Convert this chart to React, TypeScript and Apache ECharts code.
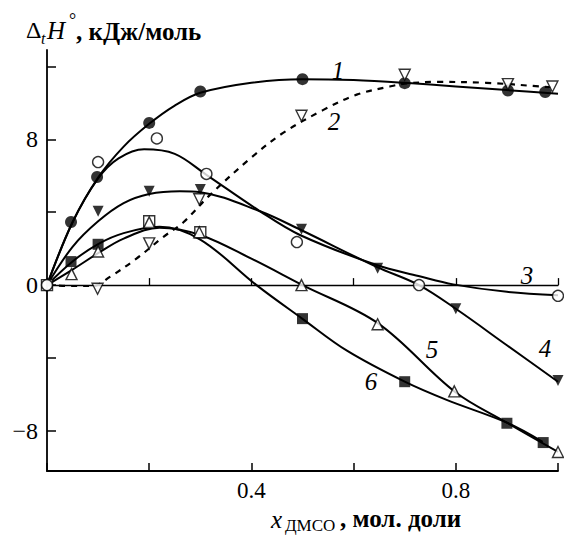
import { useEffect, useRef } from 'react';
import * as echarts from 'echarts';

// ---- axis ticks / labels ----
const xLabelValues = [0.4, 0.8];
const yTickValues = [-8, -4, 0, 4, 8, 12];
const yLabelValues = [-8, 0, 8];

// ---- measured points (x = mole fraction DMSO, y = kJ/mol) ----
const pts1 = [[0.047, 3.46], [0.098, 5.93], [0.2, 8.9], [0.3, 10.62], [0.5, 11.3], [0.7, 11.08], [0.902, 10.68], [0.975, 10.59]];
const pts2 = [[0.099, -0.2], [0.2, 2.29], [0.298, 4.71], [0.498, 9.29], [0.7, 11.54], [0.902, 11.03], [0.989, 10.9]];
const pts3 = [[0, 0], [0.1, 6.75], [0.215, 8.05], [0.312, 6.1], [0.489, 2.36], [0.728, 0], [1.0, -0.59]];
const pts4 = [[0.1, 4.05], [0.2, 5.15], [0.3, 5.25], [0.498, 3.07], [0.647, 0.92], [0.8, -1.3], [1.0, -5.24]];
const pts5 = [[0.048, 0.6], [0.1, 1.84], [0.2, 3.44], [0.298, 2.9], [0.498, 0], [0.647, -2.15], [0.797, -5.83], [1.0, -9.16]];
const pts6 = [[0, 0], [0.047, 1.29], [0.1, 2.24], [0.2, 3.5], [0.3, 2.9], [0.5, -1.84], [0.7, -5.3], [0.9, -7.58], [0.971, -8.64]];
const pts6Hollow = [0, 0.2, 0.3];

// ---- fitted curves ----
const fit1x = [0, 0.05, 0.1, 0.15, 0.2, 0.25, 0.3, 0.4, 0.5, 0.6, 0.7, 0.8, 0.9, 1.0];
const fit1y = [0, 3.45, 5.9, 7.6, 8.85, 9.85, 10.55, 11.1, 11.3, 11.25, 11.1, 10.9, 10.7, 10.5];
const fit2x = [0, 0.05, 0.09, 0.123, 0.175, 0.228, 0.267, 0.319, 0.4, 0.462, 0.54, 0.606, 0.671, 0.7, 0.763, 0.86, 0.965, 0.99];
const fit2y = [0, -0.05, -0.05, 0.45, 1.45, 2.65, 3.45, 4.95, 7.0, 8.35, 9.6, 10.45, 10.9, 11.05, 11.15, 11.1, 10.9, 10.85];
const fit3x = [0, 0.05, 0.1, 0.14, 0.19, 0.25, 0.312, 0.417, 0.495, 0.645, 0.727, 0.795, 0.9, 1.0];
const fit3y = [0, 3.45, 5.85, 6.95, 7.45, 7.2, 6.05, 4.05, 2.75, 1.1, 0.5, 0.04, -0.37, -0.55];
const fit4x = [0, 0.05, 0.1, 0.15, 0.2, 0.26, 0.3, 0.417, 0.495, 0.645, 0.728, 0.8, 0.9, 1.0];
const fit4y = [0, 2.1, 3.5, 4.5, 5.0, 5.15, 5.1, 4.05, 3.05, 1.0, 0, -1.3, -3.3, -5.3];
const fit5x = [0, 0.05, 0.1, 0.15, 0.22, 0.3, 0.4, 0.5, 0.648, 0.798, 0.9, 1.0];
const fit5y = [0, 0.85, 1.75, 2.55, 3.15, 2.75, 1.45, 0, -2.1, -5.85, -7.55, -9.15];
const fit6x = [0, 0.05, 0.1, 0.15, 0.22, 0.3, 0.41, 0.5, 0.587, 0.7, 0.782, 0.9, 0.97];
const fit6y = [0, 1.3, 2.25, 2.85, 3.2, 2.5, 0, -1.85, -3.6, -5.3, -6.3, -7.55, -8.6];

// curve numbers
const curveLabels = ['1', '2', '3', '4', '5', '6'];

const SERIF = '"Liberation Serif", "Times New Roman", "DejaVu Serif", serif';

const zip = (xs: number[], ys: number[]) => xs.map((x, i) => [x, ys[i]]);

export default function App() {
  const ref = useRef<HTMLDivElement>(null);
  useEffect(() => {
    if (!ref.current) return;
    const chart = echarts.init(ref.current, null, { renderer: 'svg' });

    const lineSeries = (d: number[][], dashed = false) => ({
      type: 'line',
      data: d,
      smooth: 0.35,
      showSymbol: false,
      symbol: 'none',
      clip: false,
      lineStyle: { color: '#000', width: dashed ? 2.2 : 2, type: dashed ? [6, 6] : 'solid' },
      z: 2,
      silent: true,
    });
    const filled = { color: '#000' };
    const hollow = { color: '#fff', borderColor: '#000', borderWidth: 1.4 };
    const scatter = (d: any[], symbol: string, size: number, style: any, rotate = 0, z = 5) => ({
      type: 'scatter',
      data: d,
      symbol,
      symbolSize: size,
      symbolRotate: rotate,
      itemStyle: style,
      z,
      silent: true,
    });

    const pts6Data = pts6.map(([x, y]) => ({
      value: [x, y],
      itemStyle: pts6Hollow.includes(x) ? hollow : filled,
    }));

    const lab = (text: string, x: number, y: number, font: string, align = 'left') => ({
      type: 'text',
      x,
      y,
      style: { text, font, fill: '#000', align, verticalAlign: 'middle' },
      silent: true,
    });
    const curveLabelPos = [[338, 70], [334, 121], [527, 275], [545, 348], [432, 349], [371, 381]];

    chart.setOption({
      animation: false,
      backgroundColor: '#fff',
      grid: { left: 47, right: 6, top: 50, bottom: 65, containLabel: false },
      xAxis: [
        {
          type: 'value', min: 0, max: 1, interval: 0.2, position: 'bottom',
          axisLine: { onZero: false, lineStyle: { color: '#000', width: 1.8 } },
          axisTick: { inside: true, length: 8, lineStyle: { color: '#000', width: 1.5 } },
          axisLabel: {
            margin: 8, color: '#000', fontFamily: SERIF, fontSize: 23,
            formatter: (v: number) => (xLabelValues.some((t) => Math.abs(t - v) < 1e-6) ? v.toFixed(1) : ''),
          },
          splitLine: { show: false },
        },
        {
          type: 'value', min: 0, max: 1, interval: 0.2, position: 'top',
          axisLine: { onZero: true, lineStyle: { color: '#000', width: 1.3 } },
          axisTick: { inside: false, length: 7, lineStyle: { color: '#000', width: 1.3 } },
          axisLabel: { show: false },
          splitLine: { show: false },
        },
      ],
      yAxis: {
        type: 'value', min: -10.2, max: 12.9,
        axisLine: { show: true, onZero: false, lineStyle: { color: '#000', width: 1.8 } },
        axisTick: { show: true, inside: true, length: 9, customValues: yTickValues, lineStyle: { color: '#000', width: 1.5 } },
        axisLabel: {
          margin: 9, color: '#000', fontFamily: SERIF, fontSize: 24, customValues: yLabelValues,
          formatter: (v: number) => (v < 0 ? '\u2212' + Math.abs(v) : String(v)),
        },
        splitLine: { show: false },
      },
      series: [
        lineSeries(zip(fit1x, fit1y)),
        lineSeries(zip(fit2x, fit2y), true),
        lineSeries(zip(fit3x, fit3y)),
        lineSeries(zip(fit4x, fit4y)),
        lineSeries(zip(fit5x, fit5y)),
        lineSeries(zip(fit6x, fit6y)),
        scatter(pts6Data, 'rect', 11, filled, 0, 5),
        scatter(pts5, 'triangle', 11, hollow, 0, 6),
        scatter(pts3, 'circle', 11, hollow, 0, 6),
        scatter(pts4, 'triangle', 11, filled, 180, 6),
        scatter(pts1, 'circle', 12, filled, 0, 6),
        scatter(pts2, 'triangle', 11, hollow, 180, 7),
      ],
      graphic: [
        lab('\u0394', 26, 30, `24px ${SERIF}`),
        lab('t', 41, 38, `italic 16px ${SERIF}`),
        lab('H', 47, 30, `italic 25px ${SERIF}`),
        lab('\u00b0', 69, 20, `18px ${SERIF}`),
        lab(', кДж/моль', 76, 31, `bold 25px ${SERIF}`),
        lab('x', 271, 519, `italic 25px ${SERIF}`),
        lab('ДМСО', 285, 525, `17px ${SERIF}`),
        lab(', мол. доли', 340, 518, `bold 25px ${SERIF}`),
        ...curveLabels.map((t, i) => lab(t, curveLabelPos[i][0], curveLabelPos[i][1], `italic 25px ${SERIF}`, 'center')),
      ],
    });
    return () => chart.dispose();
  }, []);
  return <div ref={ref} style={{ position: 'absolute', left: 0, top: 0, width: 564, height: 536 }} />;
}
